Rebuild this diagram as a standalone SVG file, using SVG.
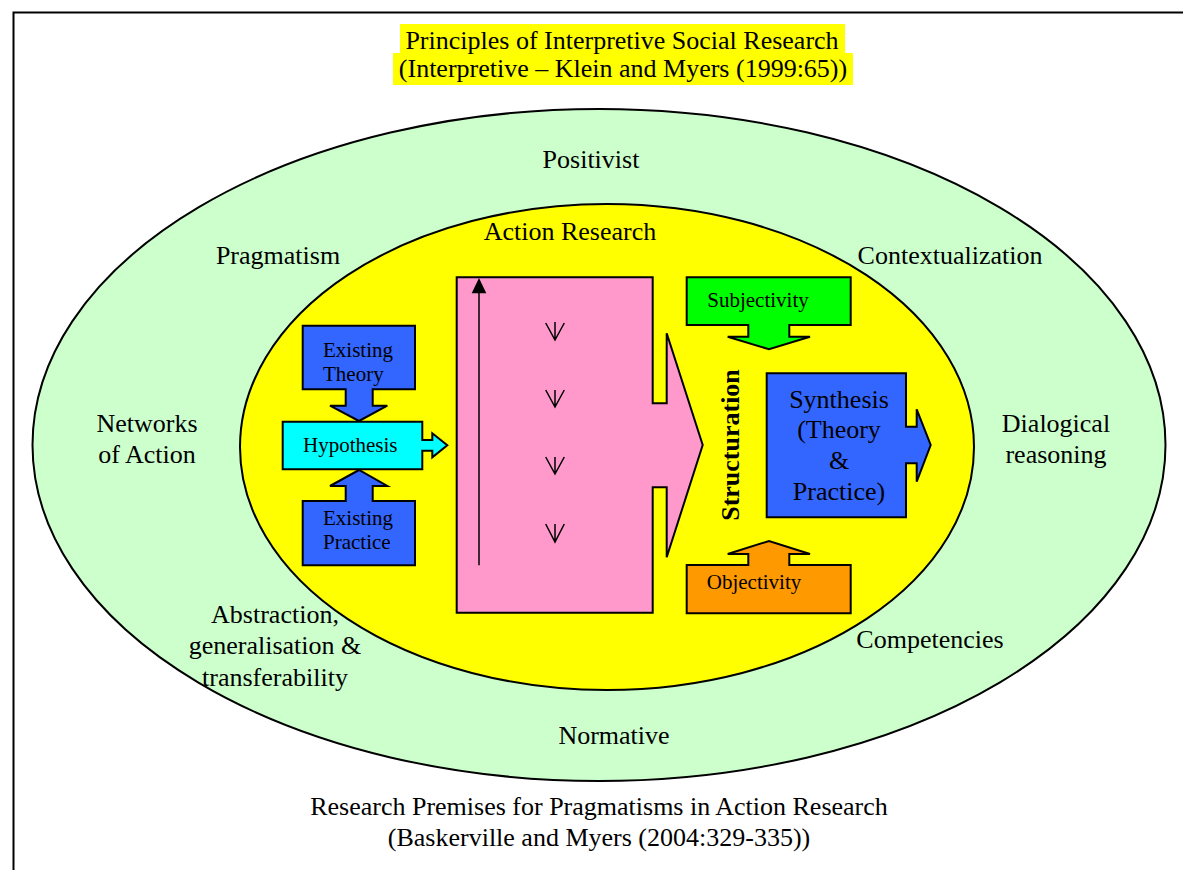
<svg xmlns="http://www.w3.org/2000/svg" width="1183" height="870" viewBox="0 0 1183 870">
<style>
text{font-family:'Liberation Serif','Tinos','Noto Serif','DejaVu Serif',serif;fill:#000}
.big{font-size:26px}
.sm{font-size:21px}
.c{text-anchor:middle}
.sh{stroke:#000;stroke-width:2;stroke-linejoin:miter}
.ar{stroke:#000;stroke-width:1.5;fill:none}
</style>
<rect x="0" y="0" width="1183" height="870" fill="#fff"/>
<path d="M13.5,870 V12.5 H1183" fill="none" stroke="#000" stroke-width="2"/>

<g id="title">
<rect x="400" y="24" width="445" height="29" fill="#ffff00"/>
<rect x="393" y="53" width="460" height="32" fill="#ffff00"/>
<text class="big c" x="622" y="49" font-family="Liberation Serif, serif">Principles of Interpretive Social Research</text>
<text class="big c" x="623" y="77" font-family="Liberation Serif, serif">(Interpretive – Klein and Myers (1999:65))</text>
</g>

<g id="outer-ellipse">
<ellipse cx="599" cy="445" rx="566.5" ry="336" fill="#ccffcc" stroke="#000" stroke-width="2"/>
<text class="big c" x="591" y="168">Positivist</text>
<text class="big c" x="278" y="264">Pragmatism</text>
<text class="big c" x="950" y="264">Contextualization</text>
<text class="big c" x="147" y="432">Networks</text>
<text class="big c" x="147" y="463">of Action</text>
<text class="big c" x="1056" y="432">Dialogical</text>
<text class="big c" x="1056" y="463">reasoning</text>
<text class="big c" x="275" y="623">Abstraction,</text>
<text class="big c" x="275" y="654">generalisation &amp;</text>
<text class="big c" x="275" y="686">transferability</text>
<text class="big c" x="930" y="648">Competencies</text>
<text class="big c" x="614" y="744">Normative</text>
</g>

<g id="inner-ellipse">
<ellipse cx="607" cy="447" rx="367" ry="243" fill="#ffff00" stroke="#000" stroke-width="2"/>
<text class="big c" x="570" y="240">Action Research</text>
</g>

<g id="existing-theory">
<path class="sh" fill="#3366ff" d="M302.7,325.7 H415 V389.3 H372.7 V405.7 H387.3 L359,421 L330,405.7 H345.7 V389.3 H302.7 Z"/>
<text class="sm" x="323" y="357">Existing</text>
<text class="sm" x="323" y="381">Theory</text>
</g>

<g id="hypothesis">
<path class="sh" fill="#00ffff" d="M282.7,421.7 H422.3 V440 H432.3 V433.3 L447.3,445.3 L432.3,457.3 V450.7 H422.3 V469.3 H282.7 Z"/>
<text class="sm" x="303" y="452">Hypothesis</text>
</g>

<g id="existing-practice">
<path class="sh" fill="#3366ff" d="M302.7,501 H345.7 V486 H330 L359,470 L387.3,486 H372.7 V501 H415 V565.3 H302.7 Z"/>
<text class="sm" x="323" y="525">Existing</text>
<text class="sm" x="323" y="549">Practice</text>
</g>

<g id="action-cycle">
<path class="sh" fill="#ff99cc" d="M456.7,277.3 H652.7 V403.3 H666.7 V333.3 L702.7,445 L666.7,557.3 V487.3 H652.7 V612.7 H456.7 Z"/>
</g>

<g id="subjectivity">
<path class="sh" fill="#00ff00" d="M686.7,277.3 H850.7 V325 H789.3 V336.7 H810 L769,349.3 L727.7,336.7 H748.3 V325 H686.7 Z"/>
<text class="sm c" x="758" y="307">Subjectivity</text>
</g>

<g id="structuration">
<text class="c" font-size="26px" font-weight="bold" transform="translate(739,445) rotate(-90)">Structuration</text>
</g>

<g id="synthesis">
<path class="sh" fill="#3366ff" d="M766.7,373.3 H906 V426.7 H916.7 V409.3 L930.7,445 L916.7,481.7 V463.3 H906 V517.3 H766.7 Z"/>
<text class="big c" x="839" y="408">Synthesis</text>
<text class="big c" x="839" y="438">(Theory</text>
<text class="big c" x="839" y="469">&amp;</text>
<text class="big c" x="839" y="500">Practice)</text>
</g>

<g id="objectivity">
<path class="sh" fill="#ff9900" d="M686.7,565 H748.3 V554 H727.7 L769,541 L810,554 H789.3 V565 H850.7 V613.3 H686.7 Z"/>
<text class="sm c" x="754" y="589">Objectivity</text>
</g>

<g id="connectors">
<line class="ar" x1="479" y1="565.3" x2="479" y2="292"/>
<path d="M479,278 L471.7,293.3 L486.3,293.3 Z" fill="#000"/>
<path class="ar" d="M555,322 V340 M545.7,323 L555,340 L564.3,323"/>
<path class="ar" d="M555,390 V407 M545.7,390 L555,407 L564.3,390"/>
<path class="ar" d="M555,457 V474 M545.7,457 L555,474 L564.3,457"/>
<path class="ar" d="M555,524 V542 M545.7,524 L555,542 L564.3,524"/>
</g>

<g id="footer">
<text class="big c" x="599" y="815">Research Premises for Pragmatisms in Action Research</text>
<text class="big c" x="599" y="846">(Baskerville and Myers (2004:329-335))</text>
</g>
</svg>
